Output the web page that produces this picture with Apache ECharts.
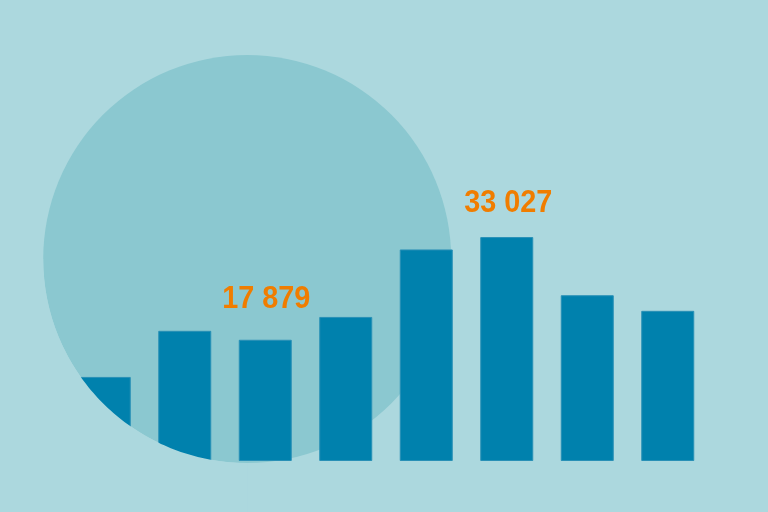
<!DOCTYPE html>
<html>
<head>
<meta charset="utf-8">
<script src="https://cdn.jsdelivr.net/npm/echarts@6/dist/echarts.min.js"></script>
<style>html,body{margin:0;padding:0;background:#acd8de;}#c{width:768px;height:512px;}</style>
</head>
<body>
<div id="c"></div>
<script>
var categories = ['1', '2', '3', '4', '5', '6', '7', '8'];
var values = [12400, 19200, 17879, 21250, 31200, 33027, 24450, 22150];
var labelledIdx = [2, 5];

var CX = 247.2, CY = 259, R = 204;
var maskPts = [[-2, CY]];
for (var a = 180; a >= 90; a -= 1) {
  var t = a * Math.PI / 180;
  maskPts.push([CX + R * Math.cos(t), CY + R * Math.sin(t)]);
}
maskPts.push([CX, 514], [-2, 514]);

function fmt(v) { return String(v).replace(/\B(?=(\d{3})+(?!\d))/g, ' '); }

var chart = echarts.init(document.getElementById('c'), null, { renderer: 'canvas' });
chart.setOption({
  backgroundColor: '#acd8de',
  animation: false,
  grid: { left: 64, right: 60, top: 122, bottom: 51 },
  xAxis: { type: 'category', data: categories, show: false },
  yAxis: { type: 'value', min: 0, max: 50000, show: false },
  graphic: [
    { id: 'circle', type: 'circle', z: -10, silent: true, shape: { cx: CX, cy: CY, r: R }, style: { fill: '#8bc8d0' } },
    { id: 'mask', type: 'polygon', z: 100, silent: true, shape: { points: maskPts }, style: { fill: '#acd8de' } }
  ],
  series: [{
    type: 'bar',
    data: values,
    barWidth: 53,
    itemStyle: { color: '#0081ad', borderColor: '#2990b6', borderWidth: 1 }
  }]
});

var gap = { 2: 41, 5: 34 };
var labels = labelledIdx.map(function (i) {
  var p = chart.convertToPixel({ seriesIndex: 0 }, [i, values[i]]);
  return {
    id: 'lab' + i, type: 'text', z: 110, silent: true,
    x: p[0] + (i === 5 ? 1.5 : 1), y: p[1] - gap[i], scaleX: 0.9,
    style: {
      text: fmt(values[i]), x: 0, y: 0, align: 'center', verticalAlign: 'middle',
      fill: '#f07d00', fontSize: 32, fontWeight: 'bold',
      fontFamily: 'Liberation Sans, sans-serif'
    }
  };
});
chart.setOption({ graphic: labels });
</script>
</body>
</html>
